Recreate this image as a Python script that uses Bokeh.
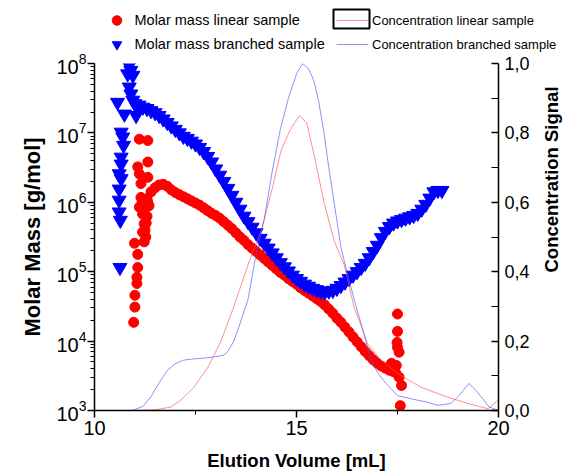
import math
from bokeh.plotting import figure
from bokeh.layouts import column, row
from bokeh.models import (Range1d, LinearScale, LinearAxis, FixedTicker, CustomJSTickFormatter,
                          Legend, LegendItem, BoxAnnotation, Label)
from bokeh.embed import file_html
from bokeh.resources import INLINE

FONT = "Liberation Sans"

# ---------------- data ----------------
# linear sample, molar mass (log10 g/mol) vs elution volume (mL)
lin_band_vol = [11.3, 11.4, 11.5, 11.6, 11.7, 11.8, 11.9, 12.0, 12.1, 12.2,
                12.3, 12.4, 12.5, 12.6, 12.7, 12.8, 12.9, 13.0, 13.1, 13.2,
                13.3, 13.4, 13.5, 13.6, 13.7, 13.8, 13.9, 14.0, 14.1, 14.2,
                14.3, 14.4, 14.5, 14.6, 14.7, 14.8, 14.9, 15.0, 15.1, 15.2,
                15.3, 15.4, 15.5, 15.6, 15.7, 15.8, 15.9, 16.0, 16.1, 16.2,
                16.3, 16.4, 16.5, 16.6, 16.7, 16.8, 16.9, 17.0, 17.1, 17.2,
                17.3, 17.4]
lin_band_logm = [6.05, 6.15, 6.21, 6.25, 6.26, 6.23, 6.18, 6.14, 6.11, 6.08,
                 6.05, 6.02, 5.99, 5.96, 5.92, 5.88, 5.84, 5.81, 5.77, 5.72,
                 5.67, 5.62, 5.56, 5.50, 5.45, 5.39, 5.34, 5.29, 5.24, 5.19,
                 5.14, 5.09, 5.04, 4.99, 4.95, 4.90, 4.86, 4.82, 4.77, 4.73,
                 4.69, 4.65, 4.61, 4.57, 4.52, 4.46, 4.40, 4.33, 4.27, 4.20,
                 4.13, 4.06, 3.99, 3.92, 3.85, 3.79, 3.73, 3.68, 3.64, 3.61,
                 3.58, 3.56]
lin_early_vol = [11.11, 11.32, 11.32, 11.07, 11.11, 11.32, 11.15, 11.15, 11.11, 11.19,
                 11.23, 11.19, 11.27, 10.99, 11.23, 11.07, 11.07, 11.05, 11.05, 11.00,
                 11.00, 10.97, 11.25, 11.30, 11.35, 11.28, 11.22, 11.32, 11.18]
lin_early_logm = [6.91, 6.89, 6.58, 6.51, 6.41, 6.36, 6.27, 6.07, 5.93, 5.83,
                  5.69, 5.57, 5.50, 5.41, 5.43, 5.25, 5.06, 4.92, 4.83, 4.66,
                  4.49, 4.27, 5.60, 5.80, 5.95, 5.70, 5.90, 6.00, 6.00]
lin_late_vol = [17.50, 17.50, 17.49, 17.50, 17.54, 17.47, 17.54, 17.60, 17.57, 17.35, 17.42, 17.45]
lin_late_logm = [4.39, 4.14, 3.98, 3.91, 3.84, 3.65, 3.48, 3.36, 3.07, 3.68, 3.62, 3.55]

# branched sample, molar mass (log10 g/mol)
br_band_vol = [11.0, 11.1, 11.2, 11.3, 11.4, 11.5, 11.6, 11.7, 11.8, 11.9,
               12.0, 12.1, 12.2, 12.3, 12.4, 12.5, 12.6, 12.7, 12.8, 12.9,
               13.0, 13.1, 13.2, 13.3, 13.4, 13.5, 13.6, 13.7, 13.8, 13.9,
               14.0, 14.1, 14.2, 14.3, 14.4, 14.5, 14.6, 14.7, 14.8, 14.9,
               15.0, 15.1, 15.2, 15.3, 15.4, 15.5, 15.6, 15.7, 15.8, 15.9,
               16.0, 16.1, 16.2, 16.3, 16.4, 16.5, 16.6, 16.7, 16.8, 16.9,
               17.0, 17.1, 17.2, 17.3, 17.4, 17.5, 17.6, 17.7, 17.8, 17.9,
               18.0, 18.1, 18.2, 18.3, 18.4, 18.5, 18.6]
br_band_logm = [7.42, 7.40, 7.37, 7.35, 7.32, 7.29, 7.25, 7.20, 7.15, 7.10,
                7.05, 7.00, 6.95, 6.92, 6.88, 6.84, 6.79, 6.73, 6.66, 6.58,
                6.48, 6.39, 6.30, 6.20, 6.10, 6.00, 5.90, 5.80, 5.72, 5.64,
                5.56, 5.48, 5.41, 5.34, 5.27, 5.20, 5.13, 5.07, 5.01, 4.95,
                4.90, 4.86, 4.82, 4.79, 4.76, 4.74, 4.72, 4.71, 4.72, 4.73,
                4.76, 4.80, 4.85, 4.90, 4.95, 5.00, 5.06, 5.12, 5.20, 5.29,
                5.38, 5.49, 5.58, 5.65, 5.70, 5.73, 5.75, 5.77, 5.79, 5.81,
                5.84, 5.90, 5.97, 6.06, 6.15, 6.17, 6.17]
br_early_vol = [10.57, 10.74, 10.66, 10.70, 10.72, 10.66, 10.66, 10.61, 10.66, 10.61,
                10.61, 10.61, 10.64, 10.86, 10.90, 10.82, 10.95, 10.86, 10.90, 10.95,
                11.03, 11.03, 10.63]
br_early_logm = [7.44, 7.27, 7.01, 6.94, 6.82, 6.65, 6.55, 6.41, 6.34, 6.19,
                 6.03, 5.86, 5.74, 7.97, 7.90, 7.85, 7.83, 7.66, 7.56, 7.47,
                 7.39, 7.25, 5.06]

# concentration signals
conc_lin_vol = [10.0, 11.0, 11.5, 11.89, 12.14, 12.46, 12.81, 13.13, 13.45, 13.8,
                14.13, 14.4, 14.62, 14.85, 15.07, 15.25, 15.43, 15.68, 15.93, 16.18,
                16.42, 16.77, 17.1, 17.5, 18.08, 18.75, 19.25, 19.74, 20.0]
conc_lin = [0.0, 0.0, 0.002, 0.01, 0.03, 0.067, 0.125, 0.2, 0.3, 0.42,
            0.52, 0.64, 0.75, 0.81, 0.85, 0.83, 0.74, 0.60, 0.49, 0.42,
            0.30, 0.19, 0.144, 0.107, 0.067, 0.038, 0.02, 0.005, 0.03]
conc_br_vol = [10.0, 10.5, 10.9, 11.0, 11.2, 11.4, 11.6, 11.8, 12.0, 12.2,
               12.4, 12.6, 12.8, 13.0, 13.2, 13.3, 13.45, 13.6, 13.8, 14.0,
               14.2, 14.4, 14.6, 14.8, 15.0, 15.15, 15.3, 15.43, 15.55, 15.68,
               15.8, 15.93, 16.1, 16.27, 16.45, 16.6, 16.84, 17.0, 17.16, 17.5,
               17.9, 18.2, 18.5, 18.82, 19.0, 19.27, 19.5, 19.77, 20.0]
conc_br = [0.0, 0.0, 0.0, 0.003, 0.012, 0.04, 0.08, 0.115, 0.135, 0.145,
           0.148, 0.150, 0.152, 0.155, 0.16, 0.17, 0.20, 0.25, 0.32, 0.45,
           0.55, 0.69, 0.81, 0.90, 0.97, 1.0, 0.985, 0.95, 0.89, 0.80,
           0.70, 0.60, 0.47, 0.39, 0.31, 0.25, 0.15, 0.11, 0.086, 0.043,
           0.032, 0.025, 0.015, 0.02, 0.04, 0.078, 0.05, 0.01, 0.0]

x_ticks = [10, 15, 20]
x_minor = [12.5, 17.5]
conc_ticks = [0.0, 0.2, 0.4, 0.6, 0.8, 1.0]
conc_minor = [0.1, 0.3, 0.5, 0.7, 0.9]

lin_vol = lin_early_vol + lin_band_vol + lin_late_vol
lin_mass = [10 ** v for v in lin_early_logm + lin_band_logm + lin_late_logm]
br_vol = br_early_vol + br_band_vol
br_mass = [10 ** v for v in br_early_logm + br_band_logm]

RED = "#ff0000"
BLUE = "#0000ff"
LRED = "#ff5555"
LBLUE = "#5555ff"

# ---------------- main figure ----------------
p = figure(width=540, height=422, output_backend="svg", toolbar_location=None,
           x_range=Range1d(10, 20), y_range=Range1d(1e3, 1e8), y_axis_type="log",
           min_border_left=94, min_border_right=42, min_border_top=11, min_border_bottom=64)
p.outline_line_color = None
p.grid.visible = False
p.background_fill_color = "white"
p.border_fill_color = "white"
p.extra_y_ranges = {"conc": Range1d(0, 1)}
p.extra_y_scales = {"conc": LinearScale()}

p.scatter(lin_vol, lin_mass, marker="circle", size=10, color=RED)
p.scatter(br_vol, br_mass, marker="inverted_triangle", size=14, color=BLUE)
p.line(conc_lin_vol, conc_lin, y_range_name="conc", color=LRED, alpha=0.65, line_width=1)
p.line(conc_br_vol, conc_br, y_range_name="conc", color=LBLUE, alpha=0.65, line_width=1)


def style_axis(ax, tick_size, title_size):
    ax.axis_line_width = 1.5
    ax.axis_line_color = "black"
    ax.major_tick_line_width = 1.5
    ax.minor_tick_line_width = 1
    ax.major_tick_line_color = "black"
    ax.minor_tick_line_color = "black"
    ax.major_label_text_font = FONT
    ax.major_label_text_font_size = tick_size
    ax.major_label_text_color = "black"
    ax.axis_label_text_font = FONT
    ax.axis_label_text_font_style = "bold"
    ax.axis_label_text_font_size = title_size
    ax.axis_label_text_color = "black"


xa = p.xaxis[0]
xa.ticker = FixedTicker(ticks=x_ticks, minor_ticks=x_minor)
xa.axis_label = "Elution Volume [mL]"
style_axis(xa, "20px", "18.5px")
xa.major_tick_out = 7
xa.major_tick_in = 0
xa.minor_tick_out = 4
xa.minor_tick_in = 0
xa.major_label_standoff = 3
xa.axis_label_standoff = 12

ya = p.yaxis[0]
ya.axis_label = "Molar Mass [g/mol]"
style_axis(ya, "20px", "22px")
ya.major_tick_out = 7
ya.major_tick_in = 0
ya.minor_tick_out = 4
ya.minor_tick_in = 0
ya.major_label_standoff = 1
ya.axis_label_standoff = 8

ra = LinearAxis(y_range_name="conc",
                ticker=FixedTicker(ticks=conc_ticks, minor_ticks=conc_minor),
                formatter=CustomJSTickFormatter(code="return tick.toFixed(1).replace('.', ',')"))
style_axis(ra, "18px", "18px")
ra.major_tick_in = 7
ra.major_tick_out = 0
ra.minor_tick_in = 7
ra.minor_tick_out = 0
ra.major_label_standoff = 6
p.add_layout(ra, "right")

# ---------------- right title strip ----------------
t = figure(width=25, height=422, output_backend="svg", toolbar_location=None,
           x_range=Range1d(0, 25), y_range=Range1d(0, 422),
           min_border=0, x_axis_location=None, y_axis_location=None)
t.outline_line_color = None
t.grid.visible = False
t.add_layout(Label(x=11, y=231, x_units="screen", y_units="screen",
                   text="Concentration Signal", angle=math.pi / 2,
                   text_align="center", text_baseline="middle",
                   text_font=FONT, text_font_style="bold", text_font_size="18.5px",
                   text_color="black"))

# ---------------- legend strip ----------------
# the key glyphs reuse the real series; the strip's ranges keep the data itself out of view
lg = figure(width=565, height=52, output_backend="svg", toolbar_location=None,
            x_range=Range1d(-1000, -435), y_range=Range1d(-1000, -948),
            min_border=0, x_axis_location=None, y_axis_location=None)
lg.outline_line_color = None
lg.grid.visible = False
k_lin = lg.scatter(lin_vol, lin_mass, marker="circle", size=10, color=RED)
k_br = lg.scatter(br_vol, br_mass, marker="inverted_triangle", size=12, color=BLUE)
k_cl = lg.line(conc_lin_vol, conc_lin, color=LRED, alpha=0.65, line_width=1)
k_cb = lg.line(conc_br_vol, conc_br, color=LBLUE, alpha=0.65, line_width=1)

leg_a = Legend(items=[LegendItem(label="Molar mass linear sample", renderers=[k_lin]),
                      LegendItem(label="Molar mass branched sample", renderers=[k_br])],
               location=(103.5, -4), orientation="vertical", glyph_width=25, glyph_height=24,
               label_height=24, spacing=0, padding=0, margin=0, label_standoff=6,
               border_line_color=None, background_fill_alpha=0,
               label_text_font=FONT, label_text_font_size="14.5px", label_text_color="black")
leg_b = Legend(items=[LegendItem(label="Concentration linear sample", renderers=[k_cl]),
                      LegendItem(label="Concentration branched sample", renderers=[k_cb])],
               location=(336, -4), orientation="vertical", glyph_width=32, glyph_height=24,
               label_height=24, spacing=0, padding=0, margin=0, label_standoff=4,
               border_line_color=None, background_fill_alpha=0,
               label_text_font=FONT, label_text_font_size="13px", label_text_color="black")
lg.add_layout(leg_a)
lg.add_layout(leg_b)
lg.add_layout(BoxAnnotation(left=333, right=369, top=43, bottom=24,
                            left_units="screen", right_units="screen",
                            top_units="screen", bottom_units="screen",
                            fill_color=None, fill_alpha=0,
                            line_color="black", line_alpha=1.0, line_width=2))

layout = column(lg, row(p, t, spacing=0), spacing=0)
open("out.html", "w").write(file_html(layout, INLINE))
